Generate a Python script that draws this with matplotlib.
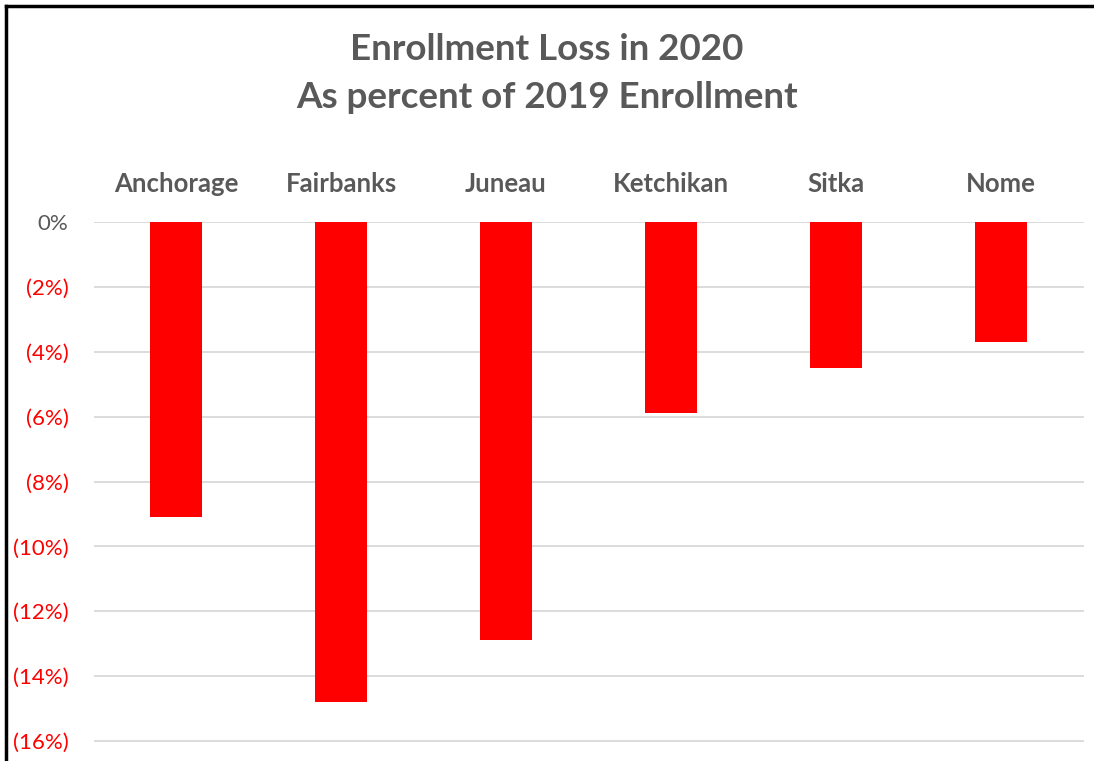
import matplotlib.pyplot as plt
from matplotlib.lines import Line2D

CITIES = ["Anchorage", "Fairbanks", "Juneau", "Ketchikan", "Sitka", "Nome"]
LOSS_PCT = [-9.1, -14.8, -12.9, -5.9, -4.5, -3.7]
TICKS = [0, -2, -4, -6, -8, -10, -12, -14, -16]

GRAY = "#595959"
RED = "#FF0000"

plt.rcParams["font.family"] = ["Lato", "DejaVu Sans"]

fig = plt.figure(figsize=(10.94, 7.61), dpi=100)
ax = fig.add_axes([93.5 / 1094, 0, 990 / 1094, (761 - 222) / 761])

x = range(len(CITIES))
ax.bar(x, LOSS_PCT, width=0.315, color=RED, zorder=3)

ax.set_xlim(-0.5, len(CITIES) - 0.5)
ax.set_ylim(-16.615, 0)

# category names sit above the zero line
ax.xaxis.tick_top()
ax.set_xticks(list(x))
ax.set_xticklabels(CITIES, fontsize=18.5, fontweight="bold", color=GRAY)
ax.tick_params(axis="x", length=0, pad=19)

ax.set_yticks(TICKS)
labels = ["0%" if t == 0 else f"({abs(t)}%)" for t in TICKS]
ax.set_yticklabels(labels, fontsize=16)
for lab, t in zip(ax.get_yticklabels(), TICKS):
    lab.set_color(GRAY if t == 0 else RED)
ax.tick_params(axis="y", length=0, pad=18)

ax.grid(axis="y", color="#D9D9D9", linewidth=1.3, zorder=0)
for s in ax.spines.values():
    s.set_visible(False)

fig.text(0.5, 1 - 49 / 761, "Enrollment Loss in 2020", ha="center", va="center",
         fontsize=26.5, fontweight="bold", color=GRAY)
fig.text(0.5, 1 - 97 / 761, "As percent of 2019 Enrollment", ha="center", va="center",
         fontsize=26.5, fontweight="bold", color=GRAY)

# chart frame: only the top and left edges fall inside the image
fig.add_artist(Line2D([6 / 1094, 1], [1 - 6 / 761, 1 - 6 / 761], color="black",
                      linewidth=2.5, transform=fig.transFigure))
fig.add_artist(Line2D([6 / 1094, 6 / 1094], [0, 1 - 6 / 761], color="black",
                      linewidth=2.5, transform=fig.transFigure))

fig.savefig("out.png", dpi=100)
